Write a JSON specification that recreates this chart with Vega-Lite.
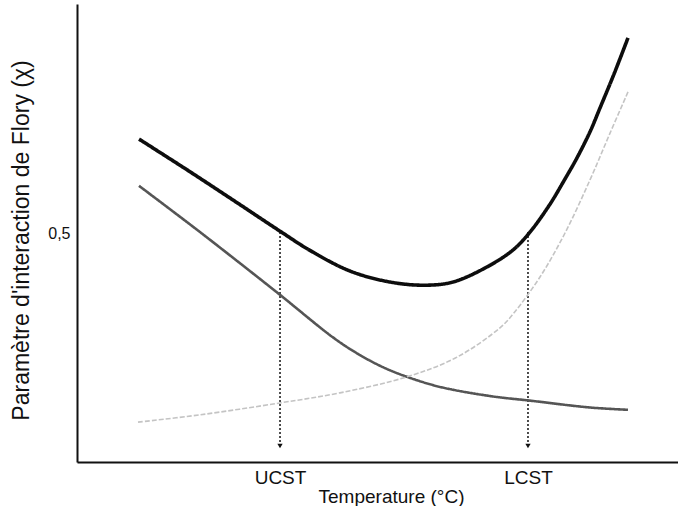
{
  "$schema": "https://vega.github.io/schema/vega-lite/v6.json",
  "width": 601,
  "height": 458,
  "autosize": {"type": "none"},
  "padding": {"left": 77, "top": 4, "right": 0, "bottom": 44},
  "background": "white",
  "config": {
    "view": {"stroke": null},
    "font": "Liberation Sans",
    "axis": {"labelFont": "Liberation Sans", "titleFont": "Liberation Sans", "labelColor": "#111", "titleColor": "#111", "titleFontWeight": "normal"}
  },
  "datasets": {
    "curves": [
      {"T": 10.32, "chi": 0.705, "curve": "total"},
      {"T": 18.30, "chi": 0.638, "curve": "total"},
      {"T": 25.96, "chi": 0.572, "curve": "total"},
      {"T": 33.78, "chi": 0.504, "curve": "total"},
      {"T": 38.77, "chi": 0.462, "curve": "total"},
      {"T": 45.42, "chi": 0.417, "curve": "total"},
      {"T": 52.08, "chi": 0.393, "curve": "total"},
      {"T": 57.90, "chi": 0.386, "curve": "total"},
      {"T": 62.56, "chi": 0.393, "curve": "total"},
      {"T": 68.22, "chi": 0.426, "curve": "total"},
      {"T": 72.55, "chi": 0.463, "curve": "total"},
      {"T": 75.37, "chi": 0.502, "curve": "total"},
      {"T": 78.70, "chi": 0.563, "curve": "total"},
      {"T": 81.20, "chi": 0.618, "curve": "total"},
      {"T": 83.19, "chi": 0.664, "curve": "total"},
      {"T": 85.36, "chi": 0.721, "curve": "total"},
      {"T": 87.02, "chi": 0.773, "curve": "total"},
      {"T": 89.35, "chi": 0.847, "curve": "total"},
      {"T": 91.68, "chi": 0.926, "curve": "total"},
      {"T": 10.32, "chi": 0.603, "curve": "decreasing"},
      {"T": 15.47, "chi": 0.552, "curve": "decreasing"},
      {"T": 20.47, "chi": 0.502, "curve": "decreasing"},
      {"T": 27.12, "chi": 0.434, "curve": "decreasing"},
      {"T": 33.78, "chi": 0.365, "curve": "decreasing"},
      {"T": 42.60, "chi": 0.272, "curve": "decreasing"},
      {"T": 46.76, "chi": 0.236, "curve": "decreasing"},
      {"T": 50.92, "chi": 0.207, "curve": "decreasing"},
      {"T": 54.91, "chi": 0.186, "curve": "decreasing"},
      {"T": 60.40, "chi": 0.164, "curve": "decreasing"},
      {"T": 68.72, "chi": 0.144, "curve": "decreasing"},
      {"T": 75.37, "chi": 0.134, "curve": "decreasing"},
      {"T": 85.36, "chi": 0.119, "curve": "decreasing"},
      {"T": 91.68, "chi": 0.114, "curve": "decreasing"},
      {"T": 10.15, "chi": 0.087, "curve": "increasing"},
      {"T": 20.47, "chi": 0.103, "curve": "increasing"},
      {"T": 33.78, "chi": 0.129, "curve": "increasing"},
      {"T": 43.76, "chi": 0.151, "curve": "increasing"},
      {"T": 54.91, "chi": 0.186, "curve": "increasing"},
      {"T": 63.23, "chi": 0.229, "curve": "increasing"},
      {"T": 70.38, "chi": 0.293, "curve": "increasing"},
      {"T": 72.55, "chi": 0.323, "curve": "increasing"},
      {"T": 77.04, "chi": 0.404, "curve": "increasing"},
      {"T": 81.20, "chi": 0.500, "curve": "increasing"},
      {"T": 85.36, "chi": 0.616, "curve": "increasing"},
      {"T": 88.69, "chi": 0.718, "curve": "increasing"},
      {"T": 91.68, "chi": 0.808, "curve": "increasing"}
    ],
    "markers": [
      {"T": 33.78, "chi": 0.502, "label": "UCST"},
      {"T": 75.04, "chi": 0.502, "label": "LCST"}
    ]
  },
  "layer": [
    {
      "mark": {"type": "rule", "color": "#9a9a9a", "strokeWidth": 1.3, "strokeDash": [9, 3]},
      "encoding": {
        "y": {
          "datum": 0.5,
          "type": "quantitative",
          "scale": {"domain": [0, 1], "nice": false, "zero": false},
          "axis": {
            "values": [0.5],
            "labelExpr": "replace(datum.label, '.', ',')",
            "labelFontSize": 16,
            "labelPadding": 7,
            "ticks": false,
            "tickSize": 0,
            "grid": false,
            "domainColor": "#111",
            "domainWidth": 2,
            "title": "Paramètre d'interaction de Flory (χ)",
            "titleFontSize": 23,
            "titleX": -56,
            "titleY": 236,
            "titleAngle": 270,
            "titleAlign": "center",
            "titleBaseline": "middle"
          }
        }
      }
    },
    {
      "mark": {"type": "rule", "color": "#111", "strokeWidth": 2.5},
      "encoding": {"y": {"datum": 1, "type": "quantitative"}}
    },
    {
      "data": {"name": "markers"},
      "mark": {"type": "rule", "color": "#222", "strokeWidth": 1.6, "strokeDash": [2, 2]},
      "encoding": {
        "x": {
          "field": "T",
          "type": "quantitative",
          "scale": {"domain": [0, 100], "nice": false, "zero": false},
          "axis": {
            "values": [33.78, 75.04],
            "labelExpr": "datum.value < 50 ? 'UCST' : 'LCST'",
            "labelFontSize": 19,
            "labelPadding": 21,
            "labelBaseline": "alphabetic",
            "ticks": false,
            "tickSize": 0,
            "grid": false,
            "domainColor": "#111",
            "domainWidth": 2,
            "title": "Temperature (°C)",
            "titleFontSize": 19,
            "titleX": 314,
            "titleY": 40,
            "titleAlign": "center",
            "titleBaseline": "alphabetic"
          }
        },
        "y": {"field": "chi", "type": "quantitative"},
        "y2": {"datum": 0.04}
      }
    },
    {
      "data": {"name": "markers"},
      "mark": {"type": "point", "shape": "triangle-down", "filled": true, "color": "#111", "size": 28, "opacity": 1},
      "encoding": {
        "x": {"field": "T", "type": "quantitative"},
        "y": {"datum": 0.035, "type": "quantitative"}
      }
    },
    {
      "data": {"name": "curves"},
      "mark": {"type": "line", "interpolate": "catmull-rom"},
      "encoding": {
        "x": {"field": "T", "type": "quantitative"},
        "y": {"field": "chi", "type": "quantitative"},
        "detail": {"field": "curve"},
        "color": {"field": "curve", "type": "nominal", "scale": {"domain": ["total", "decreasing", "increasing"], "range": ["#0d0d0d", "#555555", "#c4c4c4"]}, "legend": null},
        "strokeWidth": {"field": "curve", "type": "nominal", "scale": {"domain": ["total", "decreasing", "increasing"], "range": [3.6, 1.6, 1.3]}, "legend": null},
        "strokeDash": {"field": "curve", "type": "nominal", "scale": {"domain": ["total", "decreasing", "increasing"], "range": [[1, 0], [1, 0], [5, 2]]}, "legend": null}
      }
    }
  ]
}
